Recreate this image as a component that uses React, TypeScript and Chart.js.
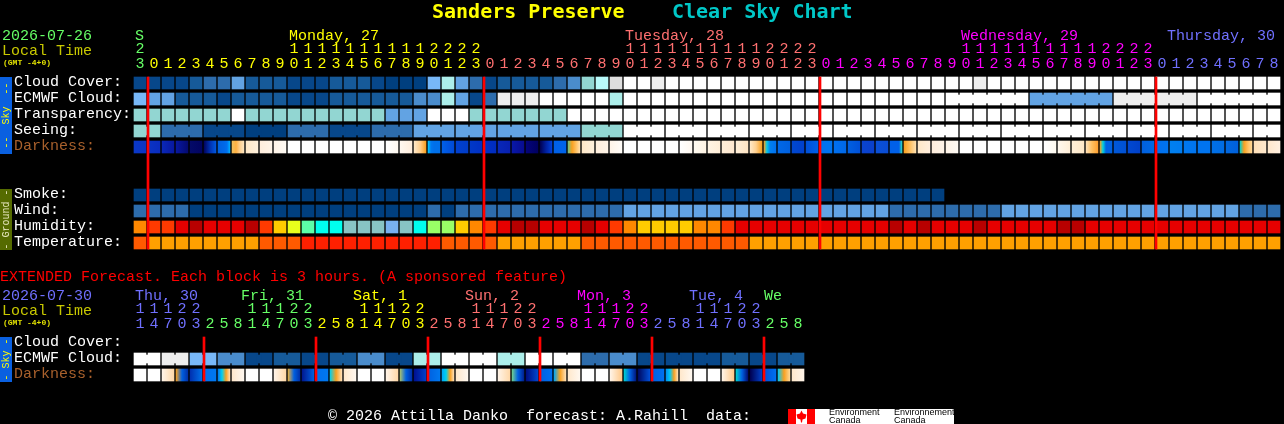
import React, { useEffect, useRef } from "react";
import { Chart, registerables } from "chart.js";

Chart.register(...registerables);

// ---------- hours (tick labels) ----------
const upperHours = [23,
  0,1,2,3,4,5,6,7,8,9,10,11,12,13,14,15,16,17,18,19,20,21,22,23,
  0,1,2,3,4,5,6,7,8,9,10,11,12,13,14,15,16,17,18,19,20,21,22,23,
  0,1,2,3,4,5,6,7,8,9,10,11,12,13,14,15,16,17,18,19,20,21,22,23,
  0,1,2,3,4,5,6,7,8];
const lowerHours = [11,14,17,20,23,
  2,5,8,11,14,17,20,23,
  2,5,8,11,14,17,20,23,
  2,5,8,11,14,17,20,23,
  2,5,8,11,14,17,20,23,
  2,5,8,11,14,17,20,23,
  2,5,8];

const GREEN = "#66ff66", YELLOW = "#ffff00", SALMON = "#ff7070", MAGENTA = "#ff00ff", PERI = "#7070ff";
const upperDays = [
  { text: "S", col: 0, start: 0, color: GREEN },
  { text: "Monday, 27", col: 11, start: 1, color: YELLOW },
  { text: "Tuesday, 28", col: 35, start: 25, color: SALMON },
  { text: "Wednesday, 29", col: 59, start: 49, color: MAGENTA },
  { text: "Thursday, 30", col: 73.72, start: 73, color: PERI },
];
const lowerDays = [
  { text: "Thu, 30", col: 0, start: 0, color: PERI },
  { text: "Fri, 31", col: 7.57, start: 5, color: GREEN },
  { text: "Sat, 1", col: 15.57, start: 13, color: YELLOW },
  { text: "Sun, 2", col: 23.57, start: 21, color: SALMON },
  { text: "Mon, 3", col: 31.57, start: 29, color: MAGENTA },
  { text: "Tue, 4", col: 39.57, start: 37, color: PERI },
  { text: "We", col: 44.93, start: 45, color: GREEN },
];
const upperMidnights = [1, 25, 49, 73];
const lowerMidnights = [5, 13, 21, 29, 37, 45];

// ---------- palettes ----------
const skyPalette = ["#003f7f","#07478a","#165a99","#2d6cac","#4a8ccc","#62a3e3","#78b8f8","#92d6d2","#aceeea","#b8fafa","#dedede","#eeeeee","#ffffff"];
const humidityPalette = ["#ff8800","#ff3a00","#e60000","#b80000","#ffcc00","#e8ff1c","#5cffa8","#00ffee","#88c4c4","#78b0f0","#99ff66"];
const temperaturePalette = ["#ff5a00","#ffa000","#ff2000"];

// ---------- series (palette levels) ----------
const cloudCover = [1,1,1,1,2,3,3,5,2,2,2,1,1,1,2,2,2,1,0,0,0,6,8,5,3,1,2,2,2,2,3,4,7,9,10,12,12,11,12,12,12,12,12,12,12,12,12,12,12,12,12,12,12,12,12,12,12,12,12,12,11,12,12,12,12,12,12,12,12,12,12,12,12,12,12,12,12,12,12,12,12,12];
const ecmwfCloud = [6,5,5,2,2,2,1,2,2,2,2,1,1,1,2,2,2,2,2,2,4,4,8,5,1,3,11,11,11,12,12,12,12,12,8,12,12,12,12,12,12,12,12,12,12,12,12,12,12,12,12,12,12,12,12,12,12,12,12,12,12,12,12,12,5,5,5,5,5,5,11,11,11,11,11,11,12,12,12,12,12,12];
const transparency = [7,7,7,7,7,7,7,12,7,7,7,7,7,7,7,7,7,7,5,5,5,12,12,12,7,7,7,7,7,7,7,12,12,12,12,12,12,12,12,12,12,12,12,12,12,12,12,12,12,12,12,12,12,12,12,12,12,12,12,12,12,12,12,12,12,12,12,12,12,12,12,12,12,12,12,12,12,12,12,12,12,12];
const seeing = [7,7,3,3,3,1,1,1,0,0,0,3,3,3,1,1,1,3,3,3,5,5,5,5,5,5,5,5,5,5,5,5,7,7,7,12,12,12,12,12,12,12,12,12,12,12,12,12,12,12,12,12,12,12,12,12,12,12,12,12,12,12,12,12,12,12,12,12,12,12,12,12,12,12,12,12,12,12,12,12,12,12];
const smoke = [0,0,0,0,0,0,0,0,0,0,0,0,0,0,0,0,0,0,0,0,0,0,0,0,0,0,0,0,0,0,0,0,0,0,0,0,0,0,0,0,0,0,0,0,0,0,0,0,0,0,0,0,0,0,0,0,0,0];
const wind = [3,3,3,3,0,0,0,0,0,0,0,0,0,0,0,0,0,0,0,0,0,3,0,3,3,3,3,3,3,3,3,3,3,3,3,5,5,5,5,5,5,5,5,5,5,5,5,5,5,5,5,5,5,5,3,3,3,3,3,3,3,3,5,5,5,5,5,5,5,5,5,5,5,5,5,5,5,5,5,3,3,3];
const humidity = [0,1,1,2,3,2,2,2,3,1,4,5,6,7,7,8,8,8,9,8,7,10,10,4,0,1,2,3,3,2,2,2,3,2,1,0,4,4,4,4,0,0,1,2,2,2,2,2,2,2,2,2,2,2,3,2,3,2,2,2,3,2,2,2,2,2,3,3,2,2,2,2,2,2,2,2,2,2,2,2,2,2];
const temperature = [0,1,1,1,1,1,1,1,1,0,0,0,2,2,2,2,2,2,2,2,2,2,0,0,0,0,1,1,1,1,1,1,0,0,0,0,0,0,0,0,0,0,0,0,1,1,1,1,1,1,1,1,1,1,1,1,1,1,1,1,1,1,1,1,1,1,1,1,1,1,1,1,1,1,1,1,1,1,1,1,1,1];
const ecmwfExtended = [12,12,11,11,6,6,4,4,1,1,2,2,1,1,2,2,4,4,1,1,8,8,12,12,12,12,8,8,12,12,12,12,3,3,4,4,1,1,1,1,1,1,2,2,1,1,2,2];

// ---------- darkness: colours across each block ----------
const W = ["#ffffff", "#ffffff"];
const darkness = [
  ["#0a38c8","#0a34c4"],["#0a34c4","#0a2cc0"],["#0a28b8","#0818a0"],["#0818a0","#040a70"],["#040a68","#020460"],
  ["#020460","#0030b0","#0058e0"],["#0060e0","#0064e4","#0068e8","#0070f0","#00b0ff"],
  ["#f0c060","#ffb040","#ffd090","#ffe6c0"],["#ffe8c8","#fff0dc"],["#ffeedd","#fff4e8"],["#fff4e8","#fffaf4"],
  W,W,W,W,W,W,W,["#ffffff","#fff8f0"],["#fff8f0","#ffeedd"],["#ffe8c8","#ffd090","#f8a020"],
  ["#00c8ff","#0078f0","#0070ea","#0070ea","#0070ea"],["#0060e8","#004ad8"],["#0040d0","#003cc8"],["#0038c8","#0030c4"],["#0030c8","#002cc0"],["#0828b8","#0820b0"],["#0818a8","#080c90"],["#04047a","#000060"],["#000050","#0020a0","#0040d8"],["#0060e8","#0064ea"],
  ["#70c080","#f8a020","#ffc060","#ffe0b0"],["#ffe8c8","#fff0dc"],["#ffeedd","#fff4e8"],["#fff4e8","#fffcf8"],
  W,W,W,W,["#ffffff","#fff8f0"],["#fffaf0","#fff4e4"],["#fff4e4","#ffeed8"],["#ffeed8","#ffe8d0"],["#ffeed8","#ffe4c4"],["#ffe8c8","#ffd090","#f8a020"],
  ["#f8a020","#00c8e8","#0080f0","#0078f0","#0070f0"],["#0068e8","#0060e0"],["#0048d0","#0040cc"],["#0050d8","#0060e8"],["#0070f0","#0074f0"],["#0070f0","#0068e8"],["#0060e0","#0050d8"],["#0a44d0","#0a40cc"],["#0a50d8","#0a4cd4"],["#0060e8","#0060e8","#0060e8","#0060e8","#30d8c0"],
  ["#f8a020","#ffc060","#ffe0b0"],["#ffe8c8","#ffeedd"],["#ffeedd","#fff4e8"],["#fff4e8","#fffaf4"],
  W,W,W,W,W,W,["#ffffff","#fffaf0"],["#fff8ee","#ffefd8"],["#ffefd8","#ffe8c8"],["#ffe0b8","#ffc060","#ffa030"],
  ["#f8a020","#00d0e0","#0060e0","#0060e0","#0060e0"],["#0058d8","#0050d4"],["#0048d0","#0040c8"],["#0060e0","#0068e4"],["#0070f0","#0074f0"],["#0080f0","#007cf0"],["#0078f0","#0074f0"],["#0074f0","#0074f0"],["#0070e8","#006ce4"],["#0068e0","#0060dc"],
  ["#00d0d0","#f8a020","#ffc060","#ffd898"],["#ffe0b8","#ffe8cc"],["#ffe8cc","#fff0e0"],
];
const darknessExtended = [
  W,W,["#fff4e8","#ffd8a8"],["#f8a020","#0060e0","#0030a8"],
  ["#0030b0","#0070e8"],["#0070f0","#0078f0"],["#0078f0","#00d0f0","#f8a020","#ffe0b8"],["#ffe8cc","#fff8f0"],
  W,W,["#fff4e8","#ffd8a8"],["#e8b040","#0060e0","#0030a8"],
  ["#001890","#0060e0"],["#0070f0","#0078f0"],["#00d0f0","#f8a020","#ffe0b8"],["#ffe8cc","#fff8f0"],
  W,W,["#fff4e8","#ffd8a8"],["#a8c070","#0060e0","#0030a8"],
  ["#001090","#0040c8"],["#0060e0","#0078f0"],["#00a8f8","#00d0f0","#f8a020","#ffe0b8"],["#ffe8cc","#fff8f0"],
  W,W,["#fff4e8","#ffd8a8"],["#70d090","#0060e0","#002090"],
  ["#000c80","#0048d0"],["#0060e0","#0070f0"],["#00a8f8","#f8a020","#ffe0b8"],["#ffe8cc","#fff8f0"],
  W,W,["#fff4e8","#ffc888"],["#00d0d0","#0060e0","#001880"],
  ["#000860","#0050d8"],["#0060e0","#0070f0"],["#0090f0","#00c8f8","#f8a020","#ffe0b8"],["#ffe8cc","#fff8f0"],
  W,W,["#fff4e8","#ffc888"],["#00d0d0","#0060e0","#000c70"],
  ["#000050","#0040c8"],["#0050d8","#0070f0"],["#00c8f8","#f8a020","#ffd898"],["#ffe8cc","#fff4e8"],
];

// ---------- joined runs: first and last block of each ----------
const seeingRuns = [[0,1],[2,4],[5,7],[8,10],[11,13],[14,16],[17,19],[20,22],[23,25],[26,28],[29,31],[32,34],[35,37],[38,40],[41,43],[44,46],[47,49],[50,52],[53,55],[56,58],[59,61],[62,64],[65,67],[68,70],[71,73],[74,76],[77,79],[80,81]];
const ecmwfRuns = [[58,63],[64,69],[70,75],[76,81]];
const ecmwfExtendedRuns = [[0,1],[2,3],[4,5],[6,7],[8,9],[10,11],[12,13],[14,15],[16,17],[18,19],[20,21],[22,23],[24,25],[26,27],[28,29],[30,31],[32,33],[34,35],[36,37],[38,39],[40,41],[42,43],[44,45],[46,47]];

// ---------- rows ----------
const WHITE = "#ffffff", BROWN = "#a8602c";
const upperRows = [
  { label: "Cloud Cover:", row: 0, color: WHITE, values: cloudCover, palette: skyPalette },
  { label: "ECMWF Cloud:", row: 1, color: WHITE, values: ecmwfCloud, palette: skyPalette, runs: ecmwfRuns },
  { label: "Transparency:", row: 2, color: WHITE, values: transparency, palette: skyPalette },
  { label: "Seeing:", row: 3, color: WHITE, values: seeing, palette: skyPalette, runs: seeingRuns },
  { label: "Darkness:", row: 4, color: BROWN, stops: darkness },
  { label: "Smoke:", row: 7, color: WHITE, values: smoke, palette: skyPalette },
  { label: "Wind:", row: 8, color: WHITE, values: wind, palette: skyPalette },
  { label: "Humidity:", row: 9, color: WHITE, values: humidity, palette: humidityPalette },
  { label: "Temperature:", row: 10, color: WHITE, values: temperature, palette: temperaturePalette },
];
const lowerRows = [
  { label: "Cloud Cover:", row: 0, color: WHITE, values: [] as number[], palette: skyPalette },
  { label: "ECMWF Cloud:", row: 1, color: WHITE, values: ecmwfExtended, palette: skyPalette, runs: ecmwfExtendedRuns },
  { label: "Darkness:", row: 2, color: BROWN, stops: darknessExtended },
];

const MONO = '"Liberation Mono"';
const BOLD_MONO = '"DejaVu Sans Mono"';
const RED = "#ff0000";
const SKY_BLUE = "#0a60e0", OLIVE = "#556b00";

const upperTexts = [
  { text: "Sanders Preserve", x: 432, y: 18, color: YELLOW, font: `bold 20px ${BOLD_MONO}` },
  { text: "Clear Sky Chart", x: 672, y: 18, color: "#00c8c8", font: `bold 20px ${BOLD_MONO}` },
  { text: "2026-07-26", x: 2, y: 40, color: GREEN, font: `15px ${MONO}` },
  { text: "Local Time", x: 2, y: 55, color: "#c8c800", font: `15px ${MONO}` },
  { text: "(GMT -4+0)", x: 3, y: 65, color: "#e0e000", font: `bold 8px ${MONO}` },
];
const lowerTexts = [
  { text: "EXTENDED Forecast. Each block is 3 hours. (A sponsored feature)", x: 0, y: 21, color: RED, font: `15px ${MONO}` },
  { text: "2026-07-30", x: 2, y: 40, color: PERI, font: `15px ${MONO}` },
  { text: "Local Time", x: 2, y: 55, color: "#c8c800", font: `15px ${MONO}` },
  { text: "(GMT -4+0)", x: 3, y: 65, color: "#e0e000", font: `bold 8px ${MONO}` },
  { text: "\u00a9 2026 Attilla Danko  forecast: A.Rahill  data:", x: 328, y: 160, color: WHITE, font: `15px ${MONO}` },
];
const upperBands = [
  { text: "--  Sky  --", first: 0, last: 4, fill: SKY_BLUE, color: YELLOW },
  { text: "- Ground -", first: 7, last: 10, fill: OLIVE, color: "#e8e8c0" },
];
const lowerBands = [{ text: "- Sky -", first: 0, last: 2, fill: SKY_BLUE, color: YELLOW }];

function colourOf(days: any[], index: number) {
  let c = days[0].color;
  for (const d of days) if (index >= d.start) c = d.color;
  return c;
}

function buildDatasets(rows: any[], midnights: number[], lastRow: number) {
  const sets: any[] = [];
  const half = 6 / 16;
  sets.push({
    label: "midnight",
    order: 0,
    grouped: false,
    barThickness: 2,
    backgroundColor: RED,
    data: midnights.map((c) => ({ x: c - 0.5 + 1 / 14, y: [-half, lastRow + half] })),
  });
  for (const r of rows) {
    const stops = r.stops;
    if (stops) {
      sets.push({
        label: r.label,
        order: 2,
        grouped: false,
        barThickness: 12,
        data: stops.map((_: any, i: number) => ({ x: i, y: [r.row - half, r.row + half] })),
        backgroundColor: (ctx: any) => {
          const cell = stops[ctx.dataIndex];
          const sx = ctx.chart.scales.x;
          if (!cell || !sx) return "#000000";
          const px = sx.getPixelForValue(ctx.dataIndex);
          if (!Number.isFinite(px)) return "#000000";
          const g = ctx.chart.ctx.createLinearGradient(px - 6, 0, px + 6, 0);
          cell.forEach((c: string, k: number) => g.addColorStop(k / (cell.length - 1), c));
          return g;
        },
      });
    } else {
      sets.push({
        label: r.label,
        order: 2,
        grouped: false,
        barThickness: 12,
        data: r.values.map((_: number, i: number) => ({ x: i, y: [r.row - half, r.row + half] })),
        backgroundColor: r.values.map((v: number) => r.palette[v]),
      });
      if (r.runs) {
        const pts: any[] = [];
        const cols: string[] = [];
        for (const [a, b] of r.runs) {
          for (let i = a; i < b; i++) {
            pts.push({ x: i + 0.5, y: [r.row - 4 / 16, r.row + 4 / 16] });
            cols.push(r.palette[r.values[i]]);
          }
        }
        sets.push({
          label: r.label + " joins",
          order: 1,
          grouped: false,
          barThickness: 4,
          data: pts,
          backgroundColor: cols,
        });
      }
    }
  }
  return sets;
}

function overlayPlugin(texts: any[], days: any[], bands: any[], footer: boolean) {
  return {
    id: "overlay",
    beforeDraw(chart: any) {
      const c = chart.ctx;
      c.save();
      c.fillStyle = "#000000";
      c.fillRect(0, 0, chart.width, chart.height);
      c.restore();
    },
    afterDraw(chart: any) {
      const c = chart.ctx;
      const sx = chart.scales.x;
      const sy = chart.scales.y;
      c.save();
      c.textBaseline = "alphabetic";
      c.textAlign = "left";
      for (const t of texts) {
        c.font = t.font;
        c.fillStyle = t.color;
        c.fillText(t.text, t.x, t.y);
      }
      c.font = `15px ${MONO}`;
      for (const d of days) {
        c.fillStyle = d.color;
        c.fillText(d.text, sx.getPixelForValue(d.col) - 5, 40);
      }
      for (const b of bands) {
        const top = sy.getPixelForValue(b.first - 6 / 16);
        const bot = sy.getPixelForValue(b.last + 7 / 16);
        c.fillStyle = b.fill;
        c.fillRect(0, top, 12, bot - top);
        c.save();
        c.translate(6, (top + bot) / 2);
        c.rotate(-Math.PI / 2);
        c.font = `10px ${MONO}`;
        c.textAlign = "center";
        c.textBaseline = "middle";
        c.fillStyle = b.color;
        c.fillText(b.text, 0, 0);
        c.restore();
      }
      if (footer) {
        const y0 = 149;
        c.fillStyle = "#ffffff";
        c.fillRect(788, y0, 166, 15);
        c.fillStyle = "#ff0000";
        c.fillRect(788, y0, 8, 15);
        c.fillRect(807, y0, 8, 15);
        const lx = 801.5, ly = y0 + 7.5;
        c.beginPath();
        c.moveTo(lx, ly - 6);
        c.lineTo(lx + 1.5, ly - 3);
        c.lineTo(lx + 5, ly - 2);
        c.lineTo(lx + 4, ly + 2);
        c.lineTo(lx + 1, ly + 3);
        c.lineTo(lx + 0.5, ly + 6);
        c.lineTo(lx - 0.5, ly + 6);
        c.lineTo(lx - 1, ly + 3);
        c.lineTo(lx - 4, ly + 2);
        c.lineTo(lx - 5, ly - 2);
        c.lineTo(lx - 1.5, ly - 3);
        c.closePath();
        c.fill();
        c.save();
        c.beginPath();
        c.rect(788, y0, 166, 15);
        c.clip();
        c.fillStyle = "#000000";
        c.font = '9px "Liberation Sans"';
        c.fillText("Environment", 829, y0 + 6);
        c.fillText("Canada", 829, y0 + 14);
        c.fillText("Environnement", 894, y0 + 6);
        c.fillText("Canada", 894, y0 + 14);
        c.restore();
      }
      c.restore();
    },
  };
}

function makeChart(canvas: HTMLCanvasElement, hours: number[], days: any[], rows: any[], midnights: number[], lastRow: number, maxY: number, texts: any[], bands: any[], footer: boolean) {
  const byRow: Record<number, any> = {};
  rows.forEach((r) => (byRow[r.row] = r));
  return new Chart(canvas, {
    type: "bar",
    data: { datasets: buildDatasets(rows, midnights, lastRow) },
    options: {
      animation: false,
      responsive: false,
      devicePixelRatio: 1,
      layout: { padding: { left: 14, right: 3, top: 0, bottom: 1 } },
      plugins: { legend: { display: false }, tooltip: { enabled: false }, title: { display: false } },
      scales: {
        x: {
          type: "linear",
          position: "top",
          offset: false,
          min: -0.5,
          max: 81.5,
          grid: { display: false, offset: false },
          border: { display: false },
          afterBuildTicks: (s: any) => {
            s.ticks = hours.map((_, i) => ({ value: i }));
          },
          afterFit: (s: any) => {
            s.height = 75;
            s.paddingLeft = 0;
            s.paddingRight = 0;
          },
          ticks: {
            autoSkip: false,
            maxRotation: 0,
            minRotation: 0,
            padding: -5,
            font: { family: MONO, size: 15, lineHeight: 1 },
            color: (ctx: any) => colourOf(days, ctx.index),
            callback: (v: any) => {
              const h = hours[v];
              return [h >= 10 ? String(Math.floor(h / 10)) : "", String(h % 10)];
            },
          },
        },
        y: {
          type: "linear",
          reverse: true,
          min: -0.5,
          max: maxY,
          grid: { display: false },
          border: { display: false },
          afterBuildTicks: (s: any) => {
            s.ticks = rows.map((r) => ({ value: r.row }));
          },
          afterFit: (s: any) => {
            s.width = 119;
            s.paddingTop = 0;
            s.paddingBottom = 0;
          },
          ticks: {
            autoSkip: false,
            crossAlign: "far",
            padding: 0,
            font: { family: MONO, size: 15, lineHeight: 2 / 15 },
            color: (ctx: any) => (byRow[ctx.tick?.value] ? byRow[ctx.tick.value].color : WHITE),
            callback: (v: any) => (byRow[v] ? [byRow[v].label, ""] : ""),
          },
        },
      },
    } as any,
    plugins: [overlayPlugin(texts, days, bands, footer)],
  } as any);
}

export default function App() {
  const upper = useRef<HTMLCanvasElement>(null);
  const lower = useRef<HTMLCanvasElement>(null);
  useEffect(() => {
    document.body.style.margin = "0";
    document.body.style.background = "#000";
    const a = makeChart(upper.current!, upperHours, upperDays, upperRows, upperMidnights, 10, 11, upperTexts, upperBands, false);
    const b = makeChart(lower.current!, lowerHours, lowerDays, lowerRows, lowerMidnights, 2, 5, lowerTexts, lowerBands, true);
    return () => {
      a.destroy();
      b.destroy();
    };
  }, []);
  return (
    <div style={{ position: "absolute", left: 0, top: 0, width: 1284, height: 424, background: "#000", overflow: "hidden" }}>
      <canvas ref={upper} width={1284} height={260} style={{ position: "absolute", left: 0, top: 0, display: "block" }} />
      <canvas ref={lower} width={1284} height={164} style={{ position: "absolute", left: 0, top: 260, display: "block" }} />
    </div>
  );
}
